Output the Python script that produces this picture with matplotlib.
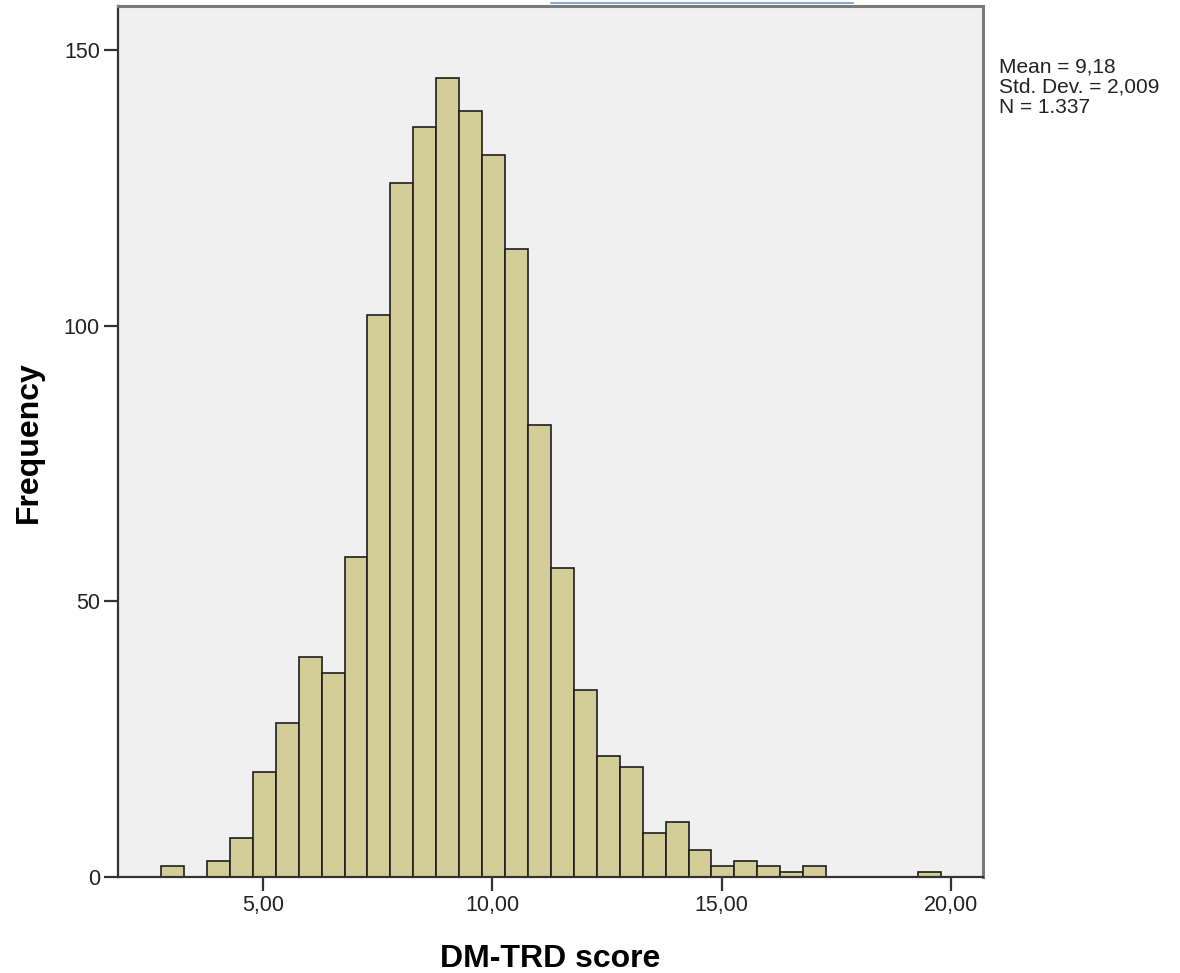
import numpy as np
import matplotlib
matplotlib.use('Agg')
import matplotlib.pyplot as plt
from matplotlib.lines import Line2D

# =============================================================================
# DADOS DO HISTOGRAMA
# =============================================================================

bin_start = 2.78
bin_width = 0.5
counts = [2, 0, 3, 7, 19, 28, 40, 37, 58, 102, 126, 136, 145, 139, 131, 114,
          82, 56, 34, 22, 20, 8, 10, 5, 2, 3, 2, 1, 2, 0, 0, 0, 0, 1]
x_ticks = [5, 10, 15, 20]
x_tick_labels = ['5,00', '10,00', '15,00', '20,00']
y_ticks = [0, 50, 100, 150]
stats_text = 'Mean = 9,18\nStd. Dev. = 2,009\nN = 1.337'

edges = bin_start + bin_width * np.arange(len(counts) + 1)

# =============================================================================
# FIGURA
# =============================================================================

plt.rcParams['font.family'] = ['Liberation Sans', 'DejaVu Sans']

fig = plt.figure(figsize=(11.8, 9.73), dpi=100)
ax = fig.add_axes([0.1, 0.0986, 0.733, 0.895])
ax.set_facecolor('#F0F0F0')

ax.bar(edges[:-1], counts, width=bin_width, align='edge',
       color='#D3CE97', edgecolor='#1E1E1E', linewidth=1.2)

ax.set_xlim(1.84, 20.70)
ax.set_ylim(0, 158)

ax.set_xticks(x_ticks)
ax.set_xticklabels(x_tick_labels)
ax.set_yticks(y_ticks)

ax.tick_params(axis='both', direction='out', length=10, width=1.6,
               color='#333333', labelsize=15.5, labelcolor='#222222', pad=3)

for s in ['left', 'bottom']:
    ax.spines[s].set_color('#333333')
    ax.spines[s].set_linewidth(1.6)
for s in ['top', 'right']:
    ax.spines[s].set_color('#7A7A7A')
    ax.spines[s].set_linewidth(2.2)

ax.set_xlabel('DM-TRD score', fontsize=23, fontweight='bold', labelpad=20)
ax.set_ylabel('Frequency', fontsize=23, fontweight='bold', labelpad=14)

fig.text(0.8466, 0.9405, stats_text, fontsize=15, color='#222222',
         va='top', ha='left', linespacing=1.07)

# linha azul de seleção no topo
fig.add_artist(Line2D([551 / 1180, 853 / 1180], [1 - 3 / 973, 1 - 3 / 973],
                      color='#6F95C8', linewidth=1.2))

fig.savefig('out.png', dpi=100, facecolor='white')
